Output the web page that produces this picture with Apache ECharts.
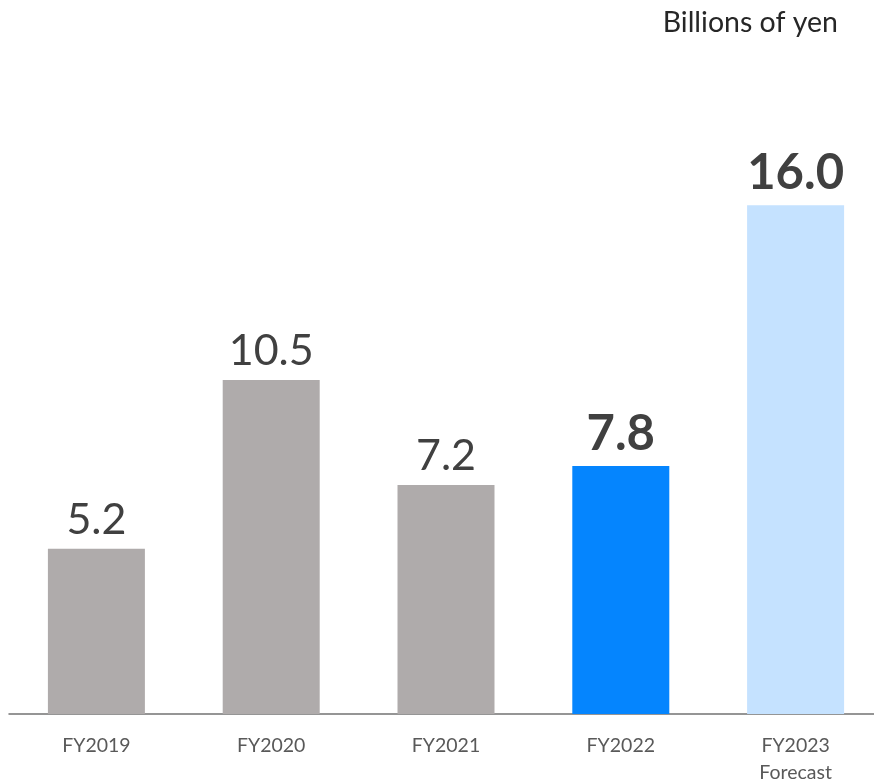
<!DOCTYPE html>
<html>
<head>
<meta charset="utf-8">
<script src="https://cdn.jsdelivr.net/npm/echarts@6/dist/echarts.min.js"></script>
<style>
  html, body { margin: 0; padding: 0; background: #fff; }
  #chart { width: 874px; height: 784px; }
</style>
</head>
<body>
<div id="chart"></div>
<script>
// Fiscal-year figures, billions of yen
const categories = ['FY2019', 'FY2020', 'FY2021', 'FY2022', 'FY2023\nForecast'];
const values = [5.2, 10.5, 7.2, 7.8, 16.0];
const unitLabel = 'Billions of yen';

// Bar appearance per year: past years gray, latest year blue, forecast light blue
const barColors = ['#AFABAB', '#AFABAB', '#AFABAB', '#0585FE', '#C5E2FF'];
const emphasized = [false, false, false, true, true];

const FONT = 'Lato, "Open Sans", sans-serif';

const chart = echarts.init(document.getElementById('chart'), null, { renderer: 'canvas' });

chart.setOption({
  animation: false,
  backgroundColor: '#ffffff',
  title: {
    text: unitLabel,
    right: 31,
    top: 3,
    textStyle: { fontFamily: FONT, fontSize: 28.5, fontWeight: 'normal', color: '#262626' }
  },
  // plot area runs slightly past the right edge so the five bands are evenly spaced
  grid: { left: 9, top: 78, right: -9, bottom: 70, containLabel: false, outerBoundsMode: 'none' },
  xAxis: {
    type: 'category',
    data: categories,
    axisLine: { show: true, lineStyle: { color: '#737373', width: 1.5 } },
    axisTick: { show: false },
    axisLabel: {
      interval: 0,
      margin: 18,
      color: '#595959',
      fontFamily: FONT,
      fontSize: 19.5,
      lineHeight: 27
    }
  },
  yAxis: {
    type: 'value',
    min: 0,
    max: 20,
    show: false,
    splitLine: { show: false }
  },
  series: [{
    type: 'bar',
    barWidth: 97,
    data: values.map((v, i) => ({
      value: v,
      itemStyle: { color: barColors[i] },
      label: {
        show: true,
        position: 'top',
        distance: 7,
        formatter: (p) => p.value.toFixed(1),
        fontFamily: FONT,
        fontSize: emphasized[i] ? 49 : 43,
        fontWeight: emphasized[i] ? 'bold' : 'normal',
        color: '#404040'
      }
    }))
  }]
});
</script>
</body>
</html>
